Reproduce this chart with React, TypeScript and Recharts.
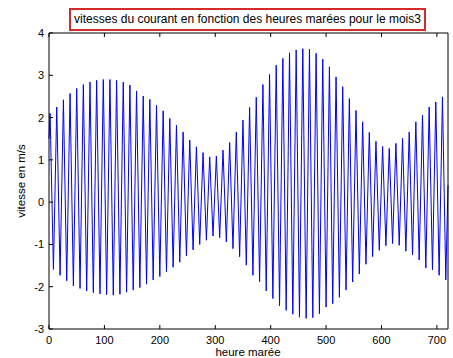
import React from "react";
import { LineChart, Line, XAxis, YAxis } from "recharts";

// Tidal cycle: 12 "heures marée" per tide
const TIDE_PERIOD = 12;
const FIRST_PEAK_HOUR = 2;
const FIRST_TROUGH_HOUR = 8;
const START_VALUE = 1.5;
const END_HOUR = 720;
const END_VALUE = 0.4;

// Flood peak speeds (m/s), one per tidal cycle
const floodPeaks = [
  2.1, 2.25, 2.42, 2.57, 2.69, 2.78, 2.84, 2.88, 2.9, 2.9,
  2.88, 2.84, 2.77, 2.63, 2.51, 2.43, 2.29, 2.16, 1.98, 1.82,
  1.66, 1.47, 1.31, 1.17, 1.07, 1.09, 1.23, 1.41, 1.66, 1.94,
  2.24, 2.48, 2.78, 3.02, 3.24, 3.4, 3.53, 3.6, 3.63, 3.62,
  3.52, 3.38, 3.2, 2.96, 2.73, 2.45, 2.17, 1.9, 1.65, 1.44,
  1.32, 1.27, 1.39, 1.51, 1.66, 1.9, 2.06, 2.25, 2.37, 2.49,
];

// Ebb peak speeds (m/s), one per tidal cycle
const ebbPeaks = [
  -1.59, -1.73, -1.86, -1.98, -2.04, -2.1, -2.14, -2.17, -2.19, -2.2,
  -2.18, -2.13, -2.08, -2.02, -1.94, -1.84, -1.76, -1.65, -1.54, -1.42,
  -1.27, -1.13, -1.0, -0.9, -0.8, -0.84, -0.94, -1.1, -1.29, -1.49,
  -1.73, -1.88, -2.1, -2.28, -2.45, -2.56, -2.65, -2.72, -2.75, -2.73,
  -2.64, -2.48, -2.4, -2.25, -2.08, -1.89, -1.7, -1.47, -1.29, -1.14,
  -1.03, -0.98, -1.02, -1.16, -1.25, -1.37, -1.56, -1.6, -1.73, -1.84,
];

const xTicks = [0, 100, 200, 300, 400, 500, 600, 700];
const yTicks = [-3, -2, -1, 0, 1, 2, 3, 4];

const titleText = "vitesses du courant en fonction des heures marées pour le mois3";
const xLabel = "heure marée";
const yLabel = "vitesse en m/s";

const data: { h: number; v: number }[] = [{ h: 0, v: START_VALUE }];
floodPeaks.forEach((p, i) => {
  data.push({ h: FIRST_PEAK_HOUR + i * TIDE_PERIOD, v: p });
  data.push({ h: FIRST_TROUGH_HOUR + i * TIDE_PERIOD, v: ebbPeaks[i] });
});
data.push({ h: END_HOUR, v: END_VALUE });

const FONT = "'Liberation Sans', Arial, Helvetica, sans-serif";
const TICK = 4;

const BottomTick = (props: any) => {
  const { x, y, payload } = props;
  return (
    <g>
      <line x1={x} y1={y} x2={x} y2={y - TICK} stroke="#000" strokeWidth={1} />
      <text x={x} y={y + 15} textAnchor="middle" fontSize={11} fontFamily={FONT} fill="#000">
        {payload.value}
      </text>
    </g>
  );
};
const TopTick = (props: any) => {
  const { x, y } = props;
  return <line x1={x} y1={y} x2={x} y2={y + TICK} stroke="#000" strokeWidth={1} />;
};
const LeftTick = (props: any) => {
  const { x, y, payload } = props;
  return (
    <g>
      <line x1={x} y1={y} x2={x + TICK} y2={y} stroke="#000" strokeWidth={1} />
      <text x={x - 5} y={y + 4} textAnchor="end" fontSize={11} fontFamily={FONT} fill="#000">
        {payload.value}
      </text>
    </g>
  );
};
const RightTick = (props: any) => {
  const { x, y } = props;
  return <line x1={x} y1={y} x2={x - TICK} y2={y} stroke="#000" strokeWidth={1} />;
};

export default function App() {
  return (
    <div
      style={{
        position: "absolute",
        left: 0,
        top: 0,
        width: 453,
        height: 358,
        background: "#fff",
        fontFamily: FONT,
        overflow: "hidden",
      }}
    >
      <LineChart
        width={453}
        height={358}
        data={data}
        margin={{ top: 32, right: 4, bottom: 0, left: 0 }}
      >
        <XAxis
          xAxisId="b"
          dataKey="h"
          type="number"
          domain={[0, 720]}
          ticks={xTicks}
          height={29}
          tickSize={0}
          tickMargin={0}
          tickLine={false}
          axisLine={{ stroke: "#000" }}
          tick={<BottomTick />}
          interval={0}
        />
        <XAxis
          xAxisId="t"
          orientation="top"
          dataKey="h"
          type="number"
          domain={[0, 720]}
          ticks={xTicks}
          height={1}
          tickSize={0}
          tickMargin={0}
          tickLine={false}
          axisLine={{ stroke: "#000" }}
          tick={<TopTick />}
          interval={0}
        />
        <YAxis
          yAxisId="l"
          type="number"
          domain={[-3, 4]}
          ticks={yTicks}
          width={49}
          tickSize={0}
          tickMargin={0}
          tickLine={false}
          axisLine={{ stroke: "#000" }}
          tick={<LeftTick />}
          interval={0}
        />
        <YAxis
          yAxisId="r"
          orientation="right"
          type="number"
          domain={[-3, 4]}
          ticks={yTicks}
          width={1}
          tickSize={0}
          tickMargin={0}
          tickLine={false}
          axisLine={{ stroke: "#000" }}
          tick={<RightTick />}
          interval={0}
        />
        <Line
          xAxisId="b"
          yAxisId="l"
          type="linear"
          dataKey="v"
          stroke="#0000ff"
          strokeWidth={1}
          dot={false}
          isAnimationActive={false}
        />
      </LineChart>
      <div
        style={{
          position: "absolute",
          left: 69,
          top: 8,
          width: 357,
          height: 23,
          boxSizing: "border-box",
          border: "2px solid #d42a2a",
          background: "#fff",
          fontSize: 12,
          lineHeight: "19px",
          textAlign: "center",
          whiteSpace: "nowrap",
          color: "#000",
        }}
      >
        {titleText}
      </div>
      <div
        style={{
          position: "absolute",
          left: 198,
          width: 100,
          top: 346,
          fontSize: 11.5,
          lineHeight: "13px",
          textAlign: "center",
          whiteSpace: "nowrap",
          color: "#000",
        }}
      >
        {xLabel}
      </div>
      <div
        style={{
          position: "absolute",
          left: 21,
          top: 181,
          fontSize: 11.5,
          lineHeight: "13px",
          whiteSpace: "nowrap",
          color: "#000",
          transform: "translate(-50%, -50%) rotate(-90deg)",
        }}
      >
        {yLabel}
      </div>
    </div>
  );
}
